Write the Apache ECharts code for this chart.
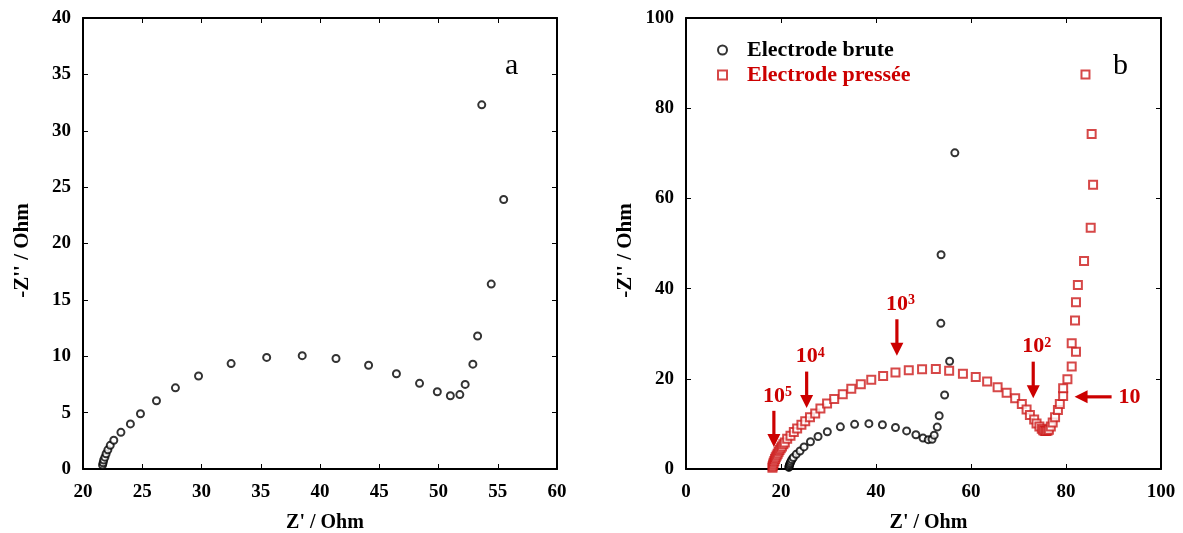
<!DOCTYPE html>
<html>
<head>
<meta charset="utf-8">
<script src="https://cdn.jsdelivr.net/npm/echarts@6/dist/echarts.min.js"></script>
<style>
html,body{margin:0;padding:0;background:#fff;}
#c{width:1183px;height:533px;}
</style>
</head>
<body>
<div id="c"></div>
<script>
// ---- Data ----
// Electrode brute (Z', -Z'')
const bruteZre = [21.65,21.7,21.75,21.85,21.95,22.1,22.3,22.6,23.2,24.0,24.85,26.2,27.8,29.75,32.5,35.5,38.5,41.35,44.1,46.45,48.4,49.9,51.0,51.8,52.25,52.9,53.3,54.45,55.5,53.65,53.7,56.6];
const bruteZim = [0.35,0.55,0.8,1.05,1.35,1.7,2.1,2.55,3.25,4.0,4.9,6.05,7.2,8.25,9.35,9.9,10.05,9.8,9.2,8.45,7.6,6.85,6.5,6.6,7.5,9.3,11.8,16.4,23.9,32.3,47.5,70.1];
// Electrode pressée (Z', -Z'')
const presseeZre = [18.2,18.25,18.35,18.45,18.6,18.75,18.9,19.1,19.3,19.5,19.7,19.95,20.2,20.5,20.8,21.3,22.0,22.7,23.4,24.3,25.1,26.1,27.2,28.3,29.7,31.2,33.0,34.8,36.8,39.0,41.5,44.1,46.9,49.7,52.6,55.4,58.3,61.0,63.4,65.6,67.5,69.3,70.7,71.7,72.4,73.3,73.8,74.4,74.9,75.2,75.5,75.8,76.1,76.4,76.8,77.2,77.7,78.3,78.7,79.4,79.4,80.3,81.2,82.1,81.2,81.9,82.1,82.5,83.8,85.2,85.7,85.4,84.1];
const presseeZim = [0.3,0.6,1.0,1.4,1.8,2.2,2.6,3.0,3.4,3.8,4.2,4.6,5.0,5.5,5.9,6.7,7.4,8.2,9.0,9.8,10.6,11.5,12.3,13.4,14.5,15.5,16.6,17.8,18.8,19.8,20.6,21.4,21.9,22.1,22.2,21.8,21.1,20.4,19.4,18.1,16.9,15.7,14.4,13.2,12.0,11.0,10.1,9.4,8.9,8.6,8.4,8.4,8.5,8.7,9.4,10.3,11.5,13.1,14.4,16.2,17.9,19.9,22.7,26.0,27.9,32.9,37.0,40.8,46.1,53.5,63.0,74.3,87.5];
// Frequency annotations (Hz): label base, exponent, arrow start (x,y) and tip (x,y) in data units
const freqBase = ['10','10','10','10','10'];
const freqExp  = ['5','4','3','2',''];
const arrowX1 = [18.5,25.4,44.4,73.1,89.6];
const arrowY1 = [12.9,21.6,33.2,23.8,16.0];
const arrowX2 = [18.5,25.4,44.4,73.1,81.8];
const arrowY2 = [4.9,13.5,25.1,15.7,16.0];
// Axis ticks
const aXmin = 20, aXmax = 60, aXstep = 5;
const aYmin = 0, aYmax = 40, aYstep = 5;
const bXmin = 0, bXmax = 100, bXstep = 20;
const bYmin = 0, bYmax = 100, bYstep = 20;
const seriesNames = ['Electrode brute','Electrode pressée'];

// ---- Chart ----
const FONT = '"Liberation Serif","Times New Roman",serif';
const RED = '#cc0000';
const chart = echarts.init(document.getElementById('c'), null, {renderer:'canvas'});

function zip(a,b){return a.map((v,i)=>[v,b[i]]);}

function mainX(gi,min,max,step){
  return {type:'value',gridIndex:gi,min,max,interval:step,position:'bottom',
    name:"Z' / Ohm",nameLocation:'middle',nameGap:44,
    nameTextStyle:{fontFamily:FONT,fontWeight:'bold',fontSize:20,color:'#000',padding:[0,0,0,10]},
    axisLine:{show:true,onZero:false,lineStyle:{color:'#000',width:2}},
    axisTick:{show:true,inside:true,length:5,lineStyle:{color:'#000',width:1}},
    axisLabel:{show:true,margin:14,fontFamily:FONT,fontWeight:'bold',fontSize:19,color:'#000'},
    splitLine:{show:false}};
}
function mirrorX(gi,min,max,step){
  return {type:'value',gridIndex:gi,min,max,interval:step,position:'top',
    axisLine:{show:true,onZero:false,lineStyle:{color:'#000',width:2}},
    axisTick:{show:true,inside:true,length:5,lineStyle:{color:'#000',width:1}},
    axisLabel:{show:false},splitLine:{show:false}};
}
function mainY(gi,min,max,step){
  return {type:'value',gridIndex:gi,min,max,interval:step,position:'left',
    name:"-Z'' / Ohm",nameLocation:'middle',nameGap:50,nameRotate:90,
    nameTextStyle:{fontFamily:FONT,fontWeight:'bold',fontSize:21,color:'#000',padding:[0,14,0,0]},
    axisLine:{show:true,onZero:false,lineStyle:{color:'#000',width:2}},
    axisTick:{show:true,inside:true,length:5,lineStyle:{color:'#000',width:1}},
    axisLabel:{show:true,margin:12,fontFamily:FONT,fontWeight:'bold',fontSize:19,color:'#000'},
    splitLine:{show:false}};
}
function mirrorY(gi,min,max,step){
  return {type:'value',gridIndex:gi,min,max,interval:step,position:'right',
    axisLine:{show:true,onZero:false,lineStyle:{color:'#000',width:2}},
    axisTick:{show:true,inside:true,length:5,lineStyle:{color:'#000',width:1}},
    axisLabel:{show:false},splitLine:{show:false}};
}

// Arrow annotations drawn through the axis scale (api.coord)
function renderArrow(params, api){
  const i = params.dataIndex;
  const p1 = api.coord([api.value(0), api.value(1)]);
  const p2 = api.coord([api.value(2), api.value(3)]);
  let dx = p2[0]-p1[0], dy = p2[1]-p1[1];
  const L = Math.sqrt(dx*dx+dy*dy); dx/=L; dy/=L;
  const headL = 13, headW = 6.5;
  const base = [p2[0]-dx*headL, p2[1]-dy*headL];
  const px = -dy, py = dx;
  const children = [
    {type:'line',shape:{x1:p1[0],y1:p1[1],x2:base[0]+dx*2,y2:base[1]+dy*2},
     style:{stroke:RED,lineWidth:3.2}},
    {type:'polygon',shape:{points:[[p2[0],p2[1]],[base[0]+px*headW,base[1]+py*headW],[base[0]-px*headW,base[1]-py*headW]]},
     style:{fill:RED}}
  ];
  const vertical = Math.abs(dx) < 0.5;
  const bfs = 22, sfs = 14;
  if (vertical){
    const cy = p1[1]-15;
    children.push({type:'text',x:p1[0],y:cy,style:{text:freqBase[i],fill:RED,
      font:'bold '+bfs+'px '+FONT,textAlign:'center',textVerticalAlign:'middle'}});
    if (freqExp[i]) children.push({type:'text',x:p1[0]+11,y:cy-3.5,style:{text:freqExp[i],fill:RED,
      font:'bold '+sfs+'px '+FONT,textAlign:'left',textVerticalAlign:'middle'}});
  } else {
    const cx = p1[0]+7;
    children.push({type:'text',x:cx,y:p1[1],style:{text:freqBase[i],fill:RED,
      font:'bold '+bfs+'px '+FONT,textAlign:'left',textVerticalAlign:'middle'}});
    if (freqExp[i]) children.push({type:'text',x:cx+22,y:p1[1]-3.5,style:{text:freqExp[i],fill:RED,
      font:'bold '+sfs+'px '+FONT,textAlign:'left',textVerticalAlign:'middle'}});
  }
  return {type:'group',children};
}

const option = {
  animation:false,
  backgroundColor:'#fff',
  grid:[
    {left:83,top:18,width:474,height:451,containLabel:false,outerBoundsMode:'none'},
    {left:686,top:18,width:475,height:451,containLabel:false,outerBoundsMode:'none'}
  ],
  xAxis:[mainX(0,aXmin,aXmax,aXstep),mirrorX(0,aXmin,aXmax,aXstep),
         mainX(1,bXmin,bXmax,bXstep),mirrorX(1,bXmin,bXmax,bXstep)],
  yAxis:[mainY(0,aYmin,aYmax,aYstep),mirrorY(0,aYmin,aYmax,aYstep),
         mainY(1,bYmin,bYmax,bYstep),mirrorY(1,bYmin,bYmax,bYstep)],
  legend:{
    left:712,top:34,orient:'vertical',itemGap:3,itemWidth:9,itemHeight:9,
    data:[
      {name:seriesNames[0],textStyle:{color:'#000'}},
      {name:seriesNames[1],textStyle:{color:RED}}
    ],
    textStyle:{fontFamily:FONT,fontWeight:'bold',fontSize:22,padding:[0,0,0,15]},
    selectedMode:false
  },
  title:[
    {text:'a',left:500,top:46,textStyle:{fontFamily:FONT,fontWeight:'normal',fontSize:30,color:'#000'}},
    {text:'b',left:1108,top:46,textStyle:{fontFamily:FONT,fontWeight:'normal',fontSize:30,color:'#000'}}
  ],
  series:[
    {name:'a_brute',type:'scatter',xAxisIndex:0,yAxisIndex:0,data:zip(bruteZre,bruteZim),
     symbol:'emptyCircle',symbolSize:7,clip:true,
     itemStyle:{color:'#000',borderColor:'#000',borderWidth:1},silent:true},
    {name:seriesNames[0],type:'scatter',xAxisIndex:2,yAxisIndex:2,data:zip(bruteZre,bruteZim),
     symbol:'emptyCircle',symbolSize:7,clip:true,
     itemStyle:{color:'#000',borderColor:'#000',borderWidth:1},silent:true},
    {name:seriesNames[1],type:'scatter',xAxisIndex:2,yAxisIndex:2,data:zip(presseeZre,presseeZim),
     symbol:'emptyRect',symbolSize:8,clip:true,
     itemStyle:{color:'#cc1a1a',borderColor:'#cc1a1a',borderWidth:1.3},silent:true},
    {name:'freq',type:'custom',xAxisIndex:2,yAxisIndex:2,clip:false,silent:true,
     renderItem:renderArrow,
     data:arrowX1.map((x,i)=>[x,arrowY1[i],arrowX2[i],arrowY2[i]])}
  ]
};
chart.setOption(option);
</script>
</body>
</html>
